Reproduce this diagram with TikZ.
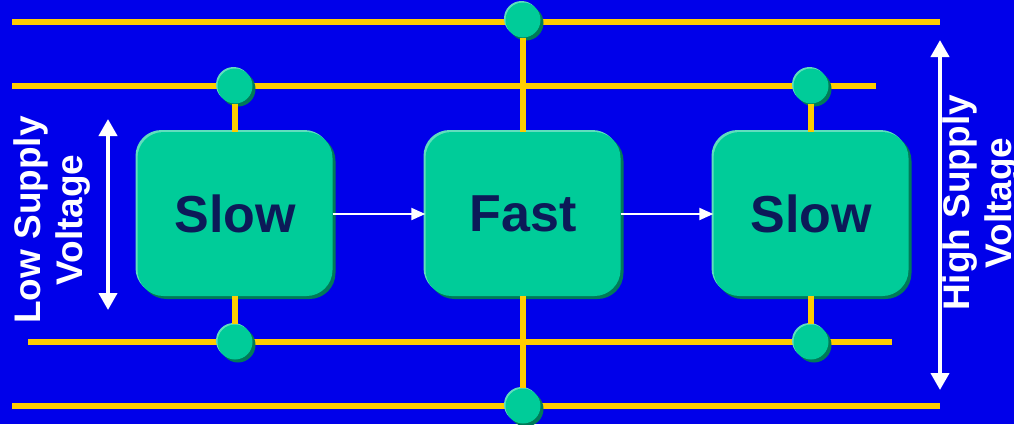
\documentclass[tikz,border=0pt]{standalone}
\usepackage{fontspec}
\setmainfont{Liberation Sans}
\usetikzlibrary{arrows.meta,positioning}
\definecolor{bgblue}{RGB}{0,0,234}
\definecolor{railyellow}{RGB}{255,204,0}
\definecolor{blockgreen}{RGB}{0,204,153}
\definecolor{blockdark}{RGB}{0,122,88}
\definecolor{blocklight}{RGB}{96,222,190}
\definecolor{labelnavy}{RGB}{12,26,88}
\tikzset{
	block/.style={rounded corners=26pt,minimum width=195pt,minimum height=164pt,inner sep=0pt,fill=blockgreen,text=labelnavy,font=\fontsize{52}{60}\selectfont\bfseries},
	tap/.style={circle,minimum size=35pt,inner sep=0pt,fill=blockgreen},
	railline/.style={railyellow,line width=6pt},
	flow/.style={white,line width=2pt,-{Triangle[length=14pt,width=12pt]}},
	span/.style={white,line width=4pt,{Triangle[length=17pt,width=18pt]}-{Triangle[length=17pt,width=18pt]}},
	vlabel/.style={white,rotate=90,align=center,inner sep=0pt,font=\fontsize{37}{42}\selectfont\bfseries}
}
\begin{document}
\begin{tikzpicture}[x=1pt,y=-1pt,line join=round]
	%==Nền
	\fill[bgblue] (0,0) rectangle (1014,424);
	\useasboundingbox (0,0) rectangle (1014,424);
	%==Các đường nguồn
	\draw[railline] (12,22)coordinate(railAw)--(940,22)coordinate(railAe);
	\draw[railline] (12,86)coordinate(railBw)--(876,86)coordinate(railBe);
	\draw[railline] (28,342)coordinate(railCw)--(892,342)coordinate(railCe);
	\draw[railline] (12,406)coordinate(railDw)--(940,406)coordinate(railDe);
	%==Các khối
	\foreach \n/\x/\t in {slowA/235/Slow,fast/523/Fast,slowB/811/Slow}{
		\node[block,fill=blocklight] at (\x-2,212) {};
		\node[block,fill=blockdark] at (\x+3,217) {};
		\node[block] (\n) at (\x,214) {\t};
	}
	%==Các điểm nối
	\foreach \n/\x/\y in {slowAtop/235/86,slowAbot/235/342,fasttop/523/20,fastbot/523/406,slowBtop/811/86,slowBbot/811/342}{
		\node[tap,fill=blocklight] at (\x-1.5,\y-1.5) {};
		\node[tap,fill=blockdark] at (\x+3,\y+3) {};
		\node[tap] (\n) at (\x,\y) {};
	}
	\draw[railline] (slowAtop)--(slowA);
	\draw[railline] (slowAbot)--(slowA);
	\draw[railline] (fasttop)--(fast);
	\draw[railline] (fastbot)--(fast);
	\draw[railline] (slowBtop)--(slowB);
	\draw[railline] (slowBbot)--(slowB);
	%==Mũi tên
	\draw[flow] (slowA)--(fast);
	\draw[flow] (fast)--(slowB);
	\draw[span] (108,119)coordinate(lowtop)--(108,310)coordinate(lowbot);
	\draw[span] (940,40)coordinate(hightop)--(940,390)coordinate(highbot);
	%==Nhãn
	\node[vlabel] (lowlbl) at (52,220) {Low Supply\\Voltage};
	\node[vlabel] (highlbl) at (981,203) {High Supply\\Voltage};
\end{tikzpicture}
\end{document}
